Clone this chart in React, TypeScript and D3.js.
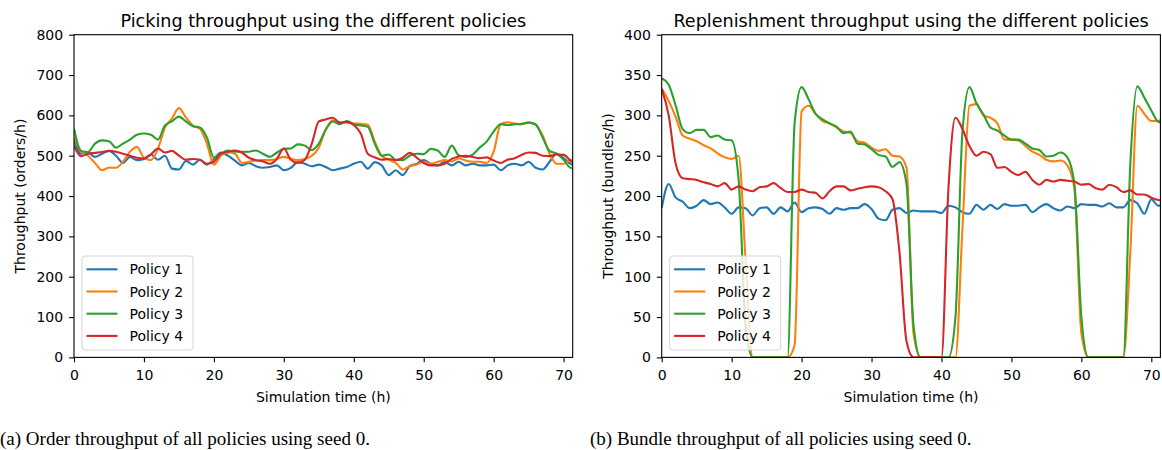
import React, { useEffect, useRef } from 'react';
import * as d3 from 'd3';

// sampled every hour, 0..72 h
const hours = d3.range(0, 73);
const policies = ['Policy 1', 'Policy 2', 'Policy 3', 'Policy 4'];
const policyColors = ['#1f77b4', '#ff7f0e', '#2ca02c', '#d62728'];

// picking throughput (orders/h)
const pickP1 = [
  540, 505, 508, 497, 505, 512, 500, 482, 497, 489,
  492, 503, 490, 500, 468, 466, 487, 478, 490, 478,
  492, 508, 500, 488, 476, 482, 474, 470, 472, 476,
  464, 470, 484, 480, 474, 478, 472, 464, 468, 472,
  480, 485, 468, 484, 476, 452, 464, 452, 474, 480,
  489, 480, 476, 485, 476, 485, 476, 480, 476, 476,
  478, 464, 476, 480, 476, 485, 470, 466, 485, 505,
  494, 480, 474,
];
const pickP2 = [
  545, 512, 500, 482, 464, 470, 470, 485, 510, 522,
  495, 489, 517, 570, 592, 618, 595, 575, 567, 530,
  478, 500, 508, 505, 482, 485, 488, 489, 489, 492,
  497, 493, 489, 492, 500, 520, 565, 588, 583, 582,
  580, 579, 577, 535, 500, 490, 482, 466, 474, 478,
  485, 480, 485, 489, 486, 493, 488, 485, 485, 482,
  510, 578, 583, 580, 578, 583, 576, 550, 505, 480,
  480, 490, 472,
];
const pickP3 = [
  567, 512, 509, 530, 538, 536, 520, 530, 540, 552,
  555, 552, 540, 575, 585, 597, 585, 573, 570, 545,
  495, 505, 513, 510, 510, 510, 513, 505, 497, 508,
  517, 518, 528, 525, 514, 530, 565, 585, 578, 586,
  578, 575, 572, 530, 500, 503, 490, 489, 500, 505,
  504, 517, 513, 497, 525, 501, 497, 503, 520, 535,
  560, 578, 576, 578, 579, 582, 578, 545, 512, 505,
  490, 470, 468,
];
const pickP4 = [
  525, 499, 505, 507, 509, 512, 510, 505, 500, 495,
  493, 503, 518, 508, 512, 500, 490, 492, 490, 480,
  485, 505, 510, 513, 508, 495, 489, 486, 480, 492,
  518, 490, 482, 490, 530, 585, 590, 594, 582, 584,
  576, 555, 505, 496, 490, 492, 489, 495, 507, 495,
  482, 476, 476, 480, 492, 498, 500, 497, 494, 496,
  488, 482, 490, 494, 502, 508, 507, 500, 499, 503,
  502, 488, 476,
];

// replenishment throughput (bundles/h)
const replP1 = [
  185, 215, 198, 193, 185, 188, 195, 190, 192, 186,
  178, 186, 185, 176, 185, 186, 178, 186, 181, 192,
  180, 185, 186, 184, 178, 185, 183, 185, 185, 190,
  184, 172, 170, 183, 185, 179, 182, 181, 181, 181,
  179, 188, 186, 180, 178, 189, 183, 189, 184, 190,
  188, 188, 189, 180, 186, 190, 185, 182, 187, 185,
  190, 189, 189, 187, 191, 186, 186, 195, 191, 178,
  196, 188, 194,
];
const replP2 = [
  333, 318, 298, 275, 271, 268, 263, 259, 253, 248,
  246, 250, 120, 0, 0, 0, 0, 0, 0, 15,
  305, 312, 302, 293, 290, 285, 280, 278, 268, 266,
  260, 256, 258, 250, 249, 235, 30, 0, 0, 0,
  0, 0, 0, 160, 312, 314, 300, 297, 290, 270,
  270, 269, 262, 255, 251, 245, 243, 244, 238, 210,
  30, 0, 0, 0, 0, 0, 0, 130, 312, 302, 293, 293, 302,
];
const replP3 = [
  346, 338, 312, 283, 278, 282, 282, 273, 275, 270,
  269, 220, 40, 0, 0, 0, 0, 0, 0, 290,
  335, 320, 302, 295, 290, 286, 278, 280, 265, 264,
  258, 251, 249, 236, 242, 215, 40, 0, 0, 0,
  0, 0, 50, 280, 335, 315, 301, 285, 281, 275,
  270, 270, 265, 259, 257, 249, 250, 254, 248, 215,
  50, 0, 0, 0, 0, 0, 0, 240, 336, 322, 306, 292, 290,
];
const replP4 = [
  333, 300, 240, 222, 221, 220, 217, 215, 212, 216,
  208, 212, 208, 206, 211, 212, 216, 210, 205, 205,
  208, 205, 204, 197, 206, 212, 212, 207, 209, 211,
  212, 211, 206, 196, 130, 20, 0, 0, 0, 0,
  0, 210, 297, 283, 262, 250, 255, 252, 235, 236,
  230, 226, 230, 220, 214, 220, 218, 220, 219, 218,
  214, 215, 210, 208, 214, 211, 205, 207, 202, 202,
  198, 195, 194,
];

const timeTicks = [0, 10, 20, 30, 40, 50, 60, 70];
const pickTicks = [0, 100, 200, 300, 400, 500, 600, 700, 800];
const replTicks = [0, 50, 100, 150, 200, 250, 300, 350, 400];

const top = 34.7, bottom = 357.4;
const font = 'DejaVu Sans';

const panels = [
  {
    id: 'a', left: 74, right: 572.7, yMax: 800, yTicks: pickTicks,
    series: [pickP1, pickP2, pickP3, pickP4],
    title: 'Picking throughput using the different policies',
    yLabel: 'Throughput (orders/h)',
    caption: '(a) Order throughput of all policies using seed 0.', captionX: 0,
  },
  {
    id: 'b', left: 661.7, right: 1160.4, yMax: 400, yTicks: replTicks,
    series: [replP1, replP2, replP3, replP4],
    title: 'Replenishment throughput using the different policies',
    yLabel: 'Throughput (bundles/h)',
    caption: '(b) Bundle throughput of all policies using seed 0.', captionX: 590,
  },
];

function drawPanel(svg: any, p: any) {
  const x = d3.scaleLinear().domain([0, 71.3]).range([p.left, p.right]);
  const y = d3.scaleLinear().domain([0, p.yMax]).range([bottom, top]);
  const g = svg.append('g');

  g.append('clipPath').attr('id', 'clip-' + p.id)
    .append('rect')
    .attr('x', p.left).attr('y', top)
    .attr('width', p.right - p.left).attr('height', bottom - top);

  const line = d3.line<number>()
    .x((d, i) => x(hours[i]))
    .y(d => y(d))
    .curve(d3.curveMonotoneX);

  g.append('g').attr('clip-path', 'url(#clip-' + p.id + ')')
    .selectAll('path')
    .data(p.series)
    .enter()
    .append('path')
    .attr('d', (d: number[]) => line(d))
    .attr('fill', 'none')
    .attr('stroke', (d: any, i: number) => policyColors[i])
    .attr('stroke-width', 2.1)
    .attr('stroke-linejoin', 'round');

  // axes
  const xAxis = g.append('g')
    .attr('transform', `translate(0,${bottom})`)
    .call(d3.axisBottom(x).tickValues(timeTicks).tickFormat(d3.format('d')).tickSize(4.9).tickPadding(7.3));
  const yAxis = g.append('g')
    .attr('transform', `translate(${p.left},0)`)
    .call(d3.axisLeft(y).tickValues(p.yTicks).tickFormat(d3.format('d')).tickSize(4.9).tickPadding(6));
  [xAxis, yAxis].forEach(a => {
    a.select('.domain').remove();
    a.selectAll('line').attr('stroke', '#000').attr('stroke-width', 1.1);
    a.selectAll('text').attr('fill', '#000').attr('font-size', 14).attr('font-family', font);
  });

  // frame
  g.append('rect')
    .attr('x', p.left).attr('y', top)
    .attr('width', p.right - p.left).attr('height', bottom - top)
    .attr('fill', 'none').attr('stroke', '#000').attr('stroke-width', 1.1);

  const cx = (p.left + p.right) / 2;
  g.append('text')
    .attr('x', cx).attr('y', 26.5)
    .attr('text-anchor', 'middle')
    .attr('font-family', font).attr('font-size', 17.6)
    .text(p.title);

  g.append('text')
    .attr('x', cx).attr('y', 402)
    .attr('text-anchor', 'middle')
    .attr('font-family', font).attr('font-size', 14)
    .text('Simulation time (h)');

  g.append('text')
    .attr('transform', `translate(${p.left - 49},${(top + bottom) / 2}) rotate(-90)`)
    .attr('text-anchor', 'middle')
    .attr('font-family', font).attr('font-size', 14)
    .text(p.yLabel);

  // legend
  const lg = g.append('g').attr('transform', `translate(${p.left + 8},256)`);
  lg.append('rect')
    .attr('width', 111).attr('height', 94).attr('rx', 3)
    .attr('fill', 'white').attr('fill-opacity', 0.8)
    .attr('stroke', '#d5d5d5').attr('stroke-width', 1);
  policies.forEach((name, i) => {
    const ey = 13.3 + i * 22.2;
    lg.append('line')
      .attr('x1', 4.5).attr('x2', 35.5).attr('y1', ey).attr('y2', ey)
      .attr('stroke', policyColors[i]).attr('stroke-width', 2.1);
    lg.append('text')
      .attr('x', 47.5).attr('y', ey).attr('dy', '0.36em')
      .attr('font-family', font).attr('font-size', 14)
      .text(name);
  });

  svg.append('text')
    .attr('x', p.captionX).attr('y', 445)
    .attr('font-family', 'Liberation Serif').attr('font-size', 19)
    .text(p.caption);
}

export default function App() {
  const ref = useRef<SVGSVGElement>(null);

  useEffect(() => {
    const svg = d3.select(ref.current);
    svg.selectAll('*').remove();
    panels.forEach(p => drawPanel(svg, p));
  }, []);

  return (
    <svg ref={ref} width={1162} height={450}
      style={{ position: 'absolute', left: 0, top: 0, background: '#fff' }} />
  );
}
